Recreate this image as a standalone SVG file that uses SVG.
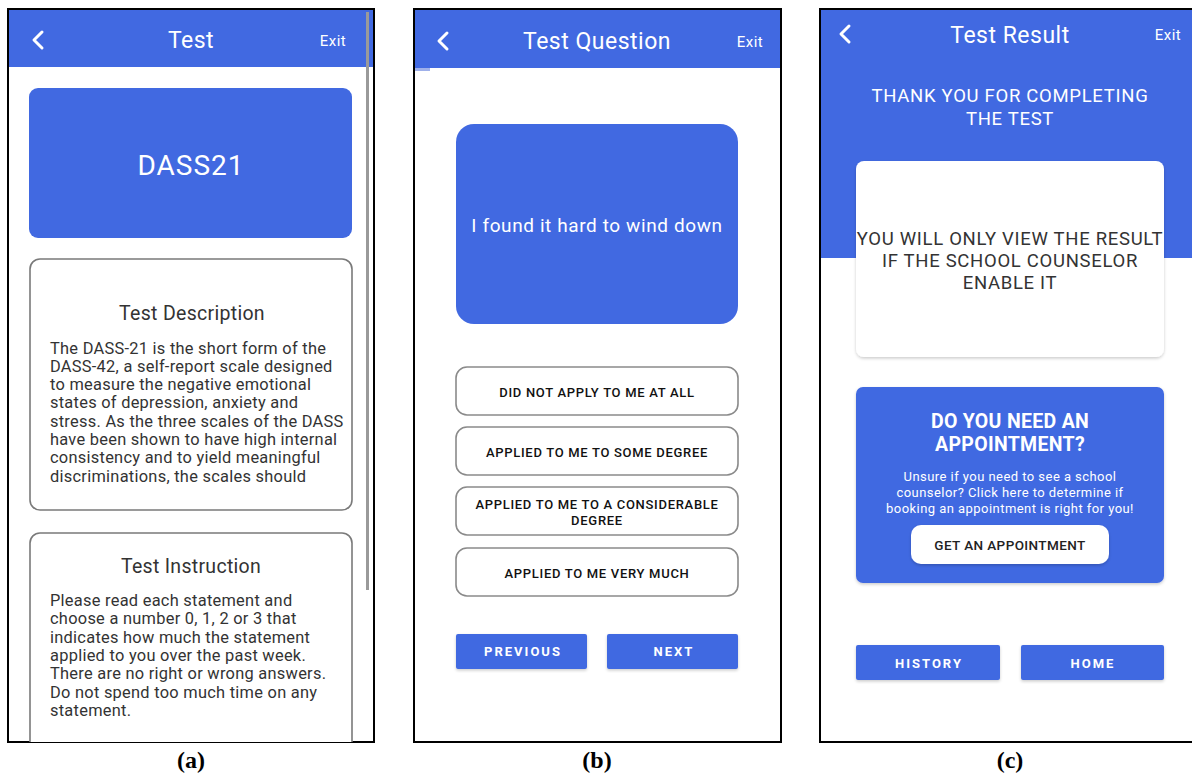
<svg xmlns="http://www.w3.org/2000/svg" width="1192" height="774" viewBox="0 0 1192 774">
<style>
.frame{fill:#fff;stroke:#000;stroke-width:2}
.blue{fill:#4169E1}
.hdr{font-family:Roboto,"Liberation Sans",sans-serif;font-size:23px;fill:#fff;text-anchor:middle;letter-spacing:0.5px}
.exit{font-family:Roboto,"Liberation Sans",sans-serif;font-size:15px;fill:#fff;text-anchor:middle;letter-spacing:0.5px}
.chev{fill:none;stroke:#fff;stroke-width:3;stroke-linecap:round;stroke-linejoin:round}
.card{fill:#fff;stroke:#7a7a7a;stroke-width:1.6}
.ctitle{font-family:Roboto,"Liberation Sans",sans-serif;font-size:19.5px;fill:#333;text-anchor:middle;letter-spacing:0.3px}
.body{font-family:Roboto,"Liberation Sans",sans-serif;font-size:16.4px;fill:#333;letter-spacing:0.27px}
.opt{fill:#fff;stroke:#8a8a8a;stroke-width:1.6}
.optt{font-family:Roboto,"Liberation Sans",sans-serif;font-size:13px;font-weight:500;fill:#111;text-anchor:middle;letter-spacing:0.7px}
.btnt{font-family:Roboto,"Liberation Sans",sans-serif;font-size:13px;font-weight:bold;fill:#fff;text-anchor:middle;letter-spacing:2px}
.wt{font-family:Roboto,"Liberation Sans",sans-serif;fill:#fff;text-anchor:middle}
.res{font-family:Roboto,"Liberation Sans",sans-serif;font-size:18.5px;fill:#333;text-anchor:middle;letter-spacing:0.7px}
.small{font-size:13px;letter-spacing:0.45px}
.lbl{font-family:"Liberation Serif",serif;font-size:24px;font-weight:bold;fill:#000;text-anchor:middle}
</style>
<defs>
  <filter id="shadow" x="-5%" y="-5%" width="110%" height="115%">
    <feDropShadow dx="0" dy="1.5" stdDeviation="1.5" flood-color="#000" flood-opacity="0.2"/>
  </filter>
</defs>

<!-- Panel (a) -->
<g id="panel-a">
  <rect class="frame" x="8" y="9" width="366" height="733"/>
  <rect class="blue" x="9" y="10" width="364" height="57"/>
  <polyline class="chev" points="42,32 34,40 42,48"/>
  <text class="hdr" x="191" y="48">Test</text>
  <text class="exit" x="333" y="46">Exit</text>
  <rect x="366" y="12" width="3" height="578" fill="#9a9a9a"/>
</g>
<g id="dass21-card">
  <rect class="blue" x="29" y="88" width="323" height="150" rx="9"/>
  <text class="wt" x="191" y="175" font-size="28" letter-spacing="1">DASS21</text>
</g>
<g id="description-card">
  <rect class="card" x="30" y="259" width="322" height="251" rx="10"/>
  <text class="ctitle" x="192" y="320">Test Description</text>
  <text class="body">
    <tspan x="50" y="353.5">The DASS-21 is the short form of the</tspan>
    <tspan x="50" y="371.8">DASS-42, a self-report scale designed</tspan>
    <tspan x="50" y="390.1">to measure the negative emotional</tspan>
    <tspan x="50" y="408.4">states of depression, anxiety and</tspan>
    <tspan x="50" y="426.7">stress. As the three scales of the DASS</tspan>
    <tspan x="50" y="445">have been shown to have high internal</tspan>
    <tspan x="50" y="463.3">consistency and to yield meaningful</tspan>
    <tspan x="50" y="481.6">discriminations, the scales should</tspan>
  </text>
</g>
<g id="instruction-card">
  <path class="card" d="M30,742 V543 a10,10 0 0 1 10,-10 H342 a10,10 0 0 1 10,10 V742"/>
  <text class="ctitle" x="191" y="573">Test Instruction</text>
  <text class="body">
    <tspan x="50" y="606">Please read each statement and</tspan>
    <tspan x="50" y="624.3">choose a number 0, 1, 2 or 3 that</tspan>
    <tspan x="50" y="642.6">indicates how much the statement</tspan>
    <tspan x="50" y="660.9">applied to you over the past week.</tspan>
    <tspan x="50" y="679.2">There are no right or wrong answers.</tspan>
    <tspan x="50" y="697.5">Do not spend too much time on any</tspan>
    <tspan x="50" y="715.8">statement.</tspan>
  </text>
</g>
<text class="lbl" x="191" y="768">(a)</text>

<!-- Panel (b) -->
<g id="panel-b">
  <rect class="frame" x="414" y="9" width="367" height="733"/>
  <rect class="blue" x="415" y="10" width="365" height="58"/>
  <rect x="415" y="68" width="15" height="3" fill="#9fb0ea"/>
  <polyline class="chev" points="447,33 439,41 447,49"/>
  <text class="hdr" x="597" y="49">Test Question</text>
  <text class="exit" x="750" y="47">Exit</text>
</g>
<g id="question-card">
  <rect class="blue" x="456" y="124" width="282" height="200" rx="18"/>
  <text class="wt" x="597" y="232" font-size="19" letter-spacing="0.6">I found it hard to wind down</text>
</g>
<g id="option-1">
  <rect class="opt" x="456" y="367" width="282" height="48" rx="11"/>
  <text class="optt" x="597" y="397">DID NOT APPLY TO ME AT ALL</text>
</g>
<g id="option-2">
  <rect class="opt" x="456" y="427" width="282" height="48" rx="11"/>
  <text class="optt" x="597" y="457">APPLIED TO ME TO SOME DEGREE</text>
</g>
<g id="option-3">
  <rect class="opt" x="456" y="487" width="282" height="48" rx="11"/>
  <text class="optt" x="597" y="509">APPLIED TO ME TO A CONSIDERABLE</text>
  <text class="optt" x="597" y="525">DEGREE</text>
</g>
<g id="option-4">
  <rect class="opt" x="456" y="548" width="282" height="48" rx="11"/>
  <text class="optt" x="597" y="578">APPLIED TO ME VERY MUCH</text>
</g>
<g id="btn-previous">
  <rect class="blue" x="456" y="634" width="131" height="35" rx="2" filter="url(#shadow)"/>
  <text class="btnt" x="523" y="656">PREVIOUS</text>
</g>
<g id="btn-next">
  <rect class="blue" x="607" y="634" width="131" height="35" rx="2" filter="url(#shadow)"/>
  <text class="btnt" x="674" y="656">NEXT</text>
</g>
<text class="lbl" x="597" y="768">(b)</text>

<!-- Panel (c) -->
<g id="panel-c">
  <rect class="frame" x="820" y="9" width="380" height="733"/>
  <rect class="blue" x="821" y="10" width="371" height="248"/>
  <polyline class="chev" points="849,26 841,34 849,42"/>
  <text class="hdr" x="1010" y="43">Test Result</text>
  <text class="exit" x="1168" y="40">Exit</text>
  <text class="wt" x="1010" y="102" font-size="18.5" letter-spacing="0.7">THANK YOU FOR COMPLETING</text>
  <text class="wt" x="1010" y="125" font-size="18.5" letter-spacing="0.7">THE TEST</text>
</g>
<g id="result-card">
  <rect x="856" y="161" width="308" height="196" rx="8" fill="#fff" filter="url(#shadow)"/>
  <text class="res" x="1010" y="245">YOU WILL ONLY VIEW THE RESULT</text>
  <text class="res" x="1010" y="267">IF THE SCHOOL COUNSELOR</text>
  <text class="res" x="1010" y="289">ENABLE IT</text>
</g>
<g id="appointment-card">
  <rect class="blue" x="856" y="387" width="308" height="196" rx="7" filter="url(#shadow)"/>
  <text class="wt" x="1010" y="428" font-size="19.5" font-weight="bold" letter-spacing="0.3">DO YOU NEED AN</text>
  <text class="wt" x="1010" y="451" font-size="19.5" font-weight="bold" letter-spacing="0.3">APPOINTMENT?</text>
  <text class="wt small" x="1010" y="481">Unsure if you need to see a school</text>
  <text class="wt small" x="1010" y="497">counselor? Click here to determine if</text>
  <text class="wt small" x="1010" y="513">booking an appointment is right for you!</text>
</g>
<g id="btn-get-appointment">
  <rect x="911" y="525" width="198" height="39" rx="10" fill="#fff" filter="url(#shadow)"/>
  <text x="1010" y="550" font-family="Roboto,'Liberation Sans',sans-serif" font-size="13.5" font-weight="500" letter-spacing="0.4" fill="#222" text-anchor="middle">GET AN APPOINTMENT</text>
</g>
<g id="btn-history">
  <rect class="blue" x="856" y="645" width="144" height="35" rx="2" filter="url(#shadow)"/>
  <text class="btnt" x="929" y="668">HISTORY</text>
</g>
<g id="btn-home">
  <rect class="blue" x="1021" y="645" width="143" height="35" rx="2" filter="url(#shadow)"/>
  <text class="btnt" x="1093" y="668">HOME</text>
</g>
<text class="lbl" x="1010" y="768">(c)</text>
</svg>
